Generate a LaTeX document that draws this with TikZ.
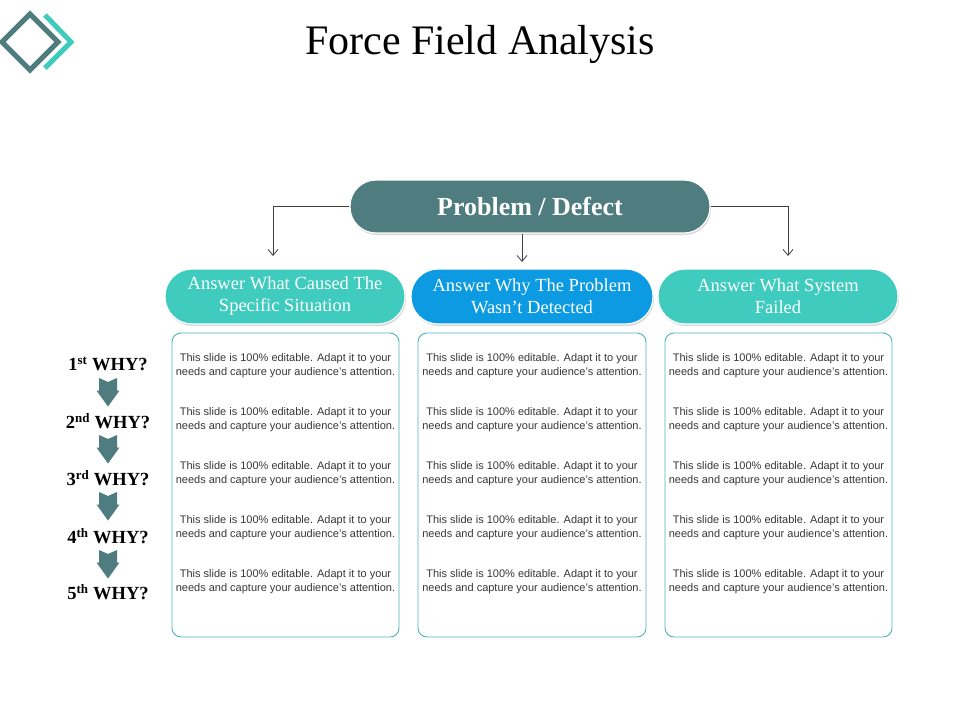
\documentclass[tikz,border=0pt]{standalone}
\usepackage{fontspec}
\setmainfont{Liberation Serif}
\setsansfont{Liberation Sans}
\usetikzlibrary{arrows.meta,shadows}
\definecolor{darkteal}{HTML}{4F7C7E}
\definecolor{turq}{HTML}{3FCBBE}
\definecolor{bluepill}{HTML}{0C9AE2}
\definecolor{boxline}{HTML}{4DB3BB}
\definecolor{linegray}{HTML}{404040}
\definecolor{bodytext}{HTML}{383838}
\tikzset{
  pill/.style={draw=white, line width=1.2pt, text=white, align=center,
    drop shadow={opacity=0.3, shadow xshift=1pt, shadow yshift=-2pt}},
  toppill/.style={pill, fill=darkteal, minimum width=360pt, minimum height=53pt,
    rounded corners=26pt, font=\fontsize{26}{30}\selectfont\bfseries},
  subpill/.style={pill, minimum width=240pt, minimum height=55pt,
    rounded corners=27pt, font=\fontsize{18.5}{22}\selectfont},
  colbox/.style={draw=boxline, line width=0.9pt, rounded corners=9pt, fill=white},
  bodytxt/.style={text=bodytext, align=center, font=\sffamily\fontsize{11}{13.5}\selectfont},
  whylbl/.style={font=\fontsize{18.5}{22}\selectfont\bfseries, text=black},
  conn/.style={draw=linegray, line width=0.8pt, -{Straight Barb[length=6pt,width=10pt]}},
  blockarrow/.style={fill=darkteal, draw=none}
}
\begin{document}
\begin{tikzpicture}[x=1pt,y=-1pt]
\useasboundingbox (0,0) rectangle (960,720);
\fill[white] (0,0) rectangle (960,720);

% logo
\draw[darkteal, line width=5pt, line join=miter] (30,14) -- (58,42) -- (30,70) -- (2,42) -- cycle;
\draw[turq, line width=5pt, line join=miter] (45,15) -- (71,42) -- (45,68);

% title
\node[font=\fontsize{42}{48}\selectfont, text=black] (title) at (480,44) {Force Field Analysis};

% top pill
\node[toppill] (prob) at (530,206.5) {Problem / Defect};

% sub pills
\node[subpill, fill=turq] (ans1) at (285,296.5) {Answer What Caused The\\Specific Situation};
\node[subpill, fill=bluepill, minimum width=242pt] (ans2) at (532,296.5) {Answer Why The Problem\\Wasn’t Detected};
\node[subpill, fill=turq] (ans3) at (778,296.5) {Answer What System\\Failed};

% connectors
\coordinate (t1) at (273,256);
\coordinate (t2) at (522,262);
\coordinate (t3) at (788,256);
\draw[conn] (prob.west) -| (t1);
\draw[conn] (prob.east) -| (t3);
\draw[conn] (prob.south -| t2) -- (t2);

% column boxes
\node[colbox, minimum width=227pt, minimum height=304pt] (box1) at (285.5,485) {};
\node[colbox, minimum width=228pt, minimum height=304pt] (box2) at (532,485) {};
\node[colbox, minimum width=227pt, minimum height=304pt] (box3) at (778.5,485) {};

% body texts
\foreach \c/\x in {1/285.5, 2/532, 3/778.5}{
  \foreach \r/\y in {1/365.5, 2/419.5, 3/473.5, 4/527.5, 5/581.5}{
    \node[bodytxt] (txt\c\r) at (\x,\y) {This slide is 100\% editable. Adapt it to your\\needs and capture your audience's attention.};
  }
}

% why labels
\node[whylbl] (why1) at (108,364) {1\textsuperscript{st} WHY?};
\node[whylbl] (why2) at (108,421) {2\textsuperscript{nd} WHY?};
\node[whylbl] (why3) at (108,478) {3\textsuperscript{rd} WHY?};
\node[whylbl] (why4) at (108,536) {4\textsuperscript{th} WHY?};
\node[whylbl] (why5) at (108,592) {5\textsuperscript{th} WHY?};

% block arrows
\foreach \y in {378, 435, 492, 550}{
  \fill[blockarrow] (99,\y) -- (108,\y+4) -- (117,\y) -- (117,\y+12.5) -- (119.5,\y+12.5)
    -- (108,\y+28.5) -- (96.5,\y+12.5) -- (99,\y+12.5) -- cycle;
}
\end{tikzpicture}
\end{document}
